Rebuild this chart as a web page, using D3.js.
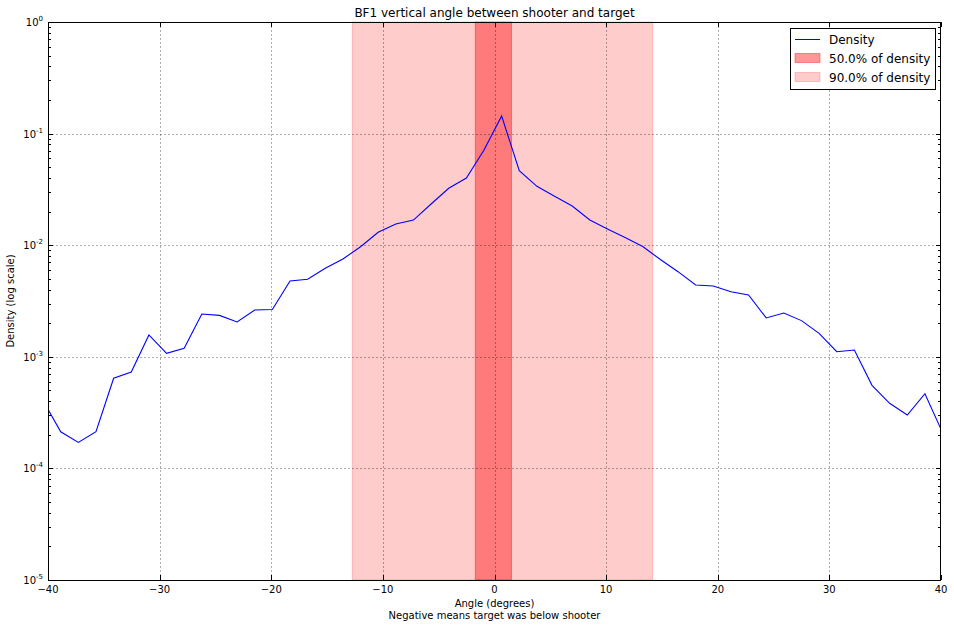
<!DOCTYPE html>
<html>
<head>
<meta charset="utf-8">
<script src="https://cdn.jsdelivr.net/npm/d3@7"></script>
<style>
  html, body { margin: 0; padding: 0; background: #fff; }
  svg { display: block; font-family: "DejaVu Sans", sans-serif; }
</style>
</head>
<body>
<svg id="chart" width="954" height="628"></svg>
<script>
// ---- data ----
const angles = [-40.44, -38.86, -37.28, -35.70, -34.12, -32.54, -30.96, -29.38, -27.80, -26.22,
  -24.64, -23.06, -21.48, -19.90, -18.32, -16.74, -15.16, -13.58, -12.00, -10.42,
  -8.84, -7.26, -5.68, -4.10, -2.52, -0.94, 0.64, 2.22, 3.80, 5.38,
  6.96, 8.54, 10.12, 11.70, 13.28, 14.86, 16.44, 18.02, 19.60, 21.18,
  22.76, 24.34, 25.92, 27.50, 29.08, 30.66, 32.24, 33.82, 35.40, 36.98,
  38.56, 40.14];
const density = [4.05e-4, 2.13e-4, 1.71e-4, 2.13e-4, 6.42e-4, 7.31e-4, 1.57e-3, 1.075e-3, 1.19e-3, 2.42e-3,
  2.35e-3, 2.05e-3, 2.63e-3, 2.65e-3, 4.78e-3, 4.95e-3, 6.21e-3, 7.52e-3, 9.69e-3, 1.305e-2,
  1.55e-2, 1.68e-2, 2.34e-2, 3.24e-2, 4.0e-2, 7.13e-2, 0.1438, 4.65e-2, 3.37e-2, 2.74e-2,
  2.245e-2, 1.68e-2, 1.40e-2, 1.17e-2, 9.73e-3, 7.44e-3, 5.79e-3, 4.40e-3, 4.31e-3, 3.83e-3,
  3.58e-3, 2.23e-3, 2.47e-3, 2.11e-3, 1.62e-3, 1.11e-3, 1.15e-3, 5.55e-4, 3.83e-4, 3.01e-4,
  4.67e-4, 2.09e-4];
const band50 = [-1.72, 1.52];
const band90 = [-12.74, 14.17];
const xTicks = [-40, -30, -20, -10, 0, 10, 20, 30, 40];
const yExponents = [0, -1, -2, -3, -4, -5];
const legendLabels = ["Density", "50.0% of density", "90.0% of density"];
const titleText = "BF1 vertical angle between shooter and target";
const xLabelLines = ["Angle (degrees)", "Negative means target was below shooter"];
const yLabelText = "Density (log scale)";

// ---- layout ----
const L = 48, R = 941, T = 22, B = 580;
const svg = d3.select("#chart");
const x = d3.scaleLinear().domain([-40, 40]).range([L, R]);
const y = d3.scaleLog().domain([1e-5, 1]).range([B, T]);

svg.append("defs").append("clipPath").attr("id", "clip")
  .append("rect").attr("x", L).attr("y", T).attr("width", R - L).attr("height", B - T);

// bands
const bands = [
  { r: band90, fill: "rgba(255,0,0,0.2)" },
  { r: band50, fill: "rgba(255,0,0,0.4)" }
];
svg.append("g").selectAll("rect").data(bands).join("rect")
  .attr("x", d => x(d.r[0])).attr("y", T)
  .attr("width", d => x(d.r[1]) - x(d.r[0])).attr("height", B - T)
  .attr("fill", d => d.fill).attr("stroke", d => d.fill).attr("stroke-width", 1);

// grid
const grid = svg.append("g").attr("stroke", "#000").attr("stroke-opacity", 0.32)
  .attr("stroke-width", 1).attr("stroke-dasharray", "2,2");
xTicks.slice(1, -1).forEach(t => {
  grid.append("line").attr("x1", Math.round(x(t)) + 0.5).attr("x2", Math.round(x(t)) + 0.5)
    .attr("y1", T).attr("y2", B);
});
yExponents.slice(1, -1).forEach(e => {
  const yy = Math.round(y(Math.pow(10, e))) + 0.5;
  grid.append("line").attr("x1", L).attr("x2", R).attr("y1", yy).attr("y2", yy);
});

// line
const line = d3.line().x((d, i) => x(angles[i])).y(d => y(d));
svg.append("path").datum(density)
  .attr("clip-path", "url(#clip)")
  .attr("fill", "none").attr("stroke", "#0000ff").attr("stroke-width", 1.1)
  .attr("d", line);

// ticks
const tk = svg.append("g").attr("stroke", "#000").attr("stroke-width", 1);
xTicks.forEach(t => {
  const xx = Math.round(x(t)) + 0.5;
  tk.append("line").attr("x1", xx).attr("x2", xx).attr("y1", B).attr("y2", B - 5);
  tk.append("line").attr("x1", xx).attr("x2", xx).attr("y1", T).attr("y2", T + 5);
});
yExponents.forEach(e => {
  const yy = Math.round(y(Math.pow(10, e))) + 0.5;
  tk.append("line").attr("x1", L).attr("x2", L + 5).attr("y1", yy).attr("y2", yy);
  tk.append("line").attr("x1", R).attr("x2", R - 5).attr("y1", yy).attr("y2", yy);
  if (e < 0) {
    for (let m = 2; m <= 9; m++) {
      const ym = Math.round(y(m * Math.pow(10, e))) + 0.5;
      tk.append("line").attr("x1", L).attr("x2", L + 3).attr("y1", ym).attr("y2", ym);
      tk.append("line").attr("x1", R).attr("x2", R - 3).attr("y1", ym).attr("y2", ym);
    }
  }
});

// frame
svg.append("rect").attr("x", L + 0.5).attr("y", T + 0.5).attr("width", R - L - 1).attr("height", B - T)
  .attr("fill", "none").attr("stroke", "#000").attr("stroke-width", 1);

// tick labels
svg.append("g").selectAll("text").data(xTicks).join("text")
  .attr("x", d => x(d)).attr("y", B + 13)
  .attr("text-anchor", "middle").attr("font-size", 10).attr("fill", "#000")
  .text(d => d < 0 ? "\u2212" + Math.abs(d) : d);

const yl = svg.append("g");
yExponents.forEach(e => {
  const t = yl.append("text").attr("x", 43).attr("y", y(Math.pow(10, e)) + 4)
    .attr("text-anchor", "end").attr("font-size", 10).attr("fill", "#000");
  t.append("tspan").text("10");
  t.append("tspan").attr("dy", -5).attr("font-size", 7).text(e === 0 ? "0" : "-" + Math.abs(e));
});

// title & labels
svg.append("text").attr("x", (L + R) / 2).attr("y", 17).attr("text-anchor", "middle")
  .attr("font-size", 12).text(titleText);
svg.append("g").selectAll("text").data(xLabelLines).join("text")
  .attr("x", (L + R) / 2).attr("y", (d, i) => 607 + i * 12)
  .attr("text-anchor", "middle").attr("font-size", 10).text(d => d);
svg.append("text").attr("transform", `translate(14,${(T + B) / 2}) rotate(-90)`)
  .attr("text-anchor", "middle").attr("font-size", 10).text(yLabelText);

// legend
const lg = svg.append("g");
lg.append("rect").attr("x", 790.5).attr("y", 28.5).attr("width", 145).attr("height", 61)
  .attr("fill", "#fff").attr("stroke", "#000").attr("stroke-width", 1);
lg.append("line").attr("x1", 795).attr("x2", 820).attr("y1", 39.5).attr("y2", 39.5)
  .attr("stroke", "#0000ff").attr("stroke-width", 1);
lg.append("rect").attr("x", 795).attr("y", 53.5).attr("width", 25).attr("height", 9)
  .attr("fill", "rgba(255,0,0,0.4)").attr("stroke", "rgba(255,0,0,0.4)");
lg.append("rect").attr("x", 795).attr("y", 72.5).attr("width", 25).attr("height", 9)
  .attr("fill", "rgba(255,0,0,0.2)").attr("stroke", "rgba(255,0,0,0.2)");
lg.selectAll("text.lt").data(legendLabels).join("text").attr("class", "lt")
  .attr("x", 829).attr("y", (d, i) => 43.5 + i * 19)
  .attr("font-size", 12).text(d => d);
</script>
</body>
</html>
